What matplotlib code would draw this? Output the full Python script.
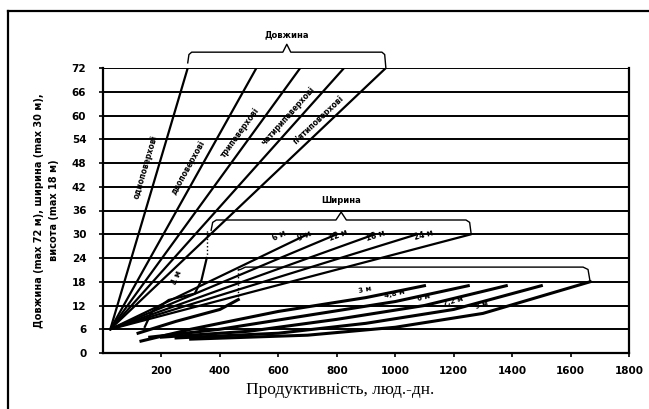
import numpy as np
import matplotlib
matplotlib.use("Agg")
import matplotlib.pyplot as plt
from matplotlib.lines import Line2D

# ---- data -------------------------------------------------------------
# length lines (Довжина): common start, end at max length 72 m
len_start = (25, 6)
len_end_x = [290, 525, 675, 825, 968]
len_end_y = [72, 72, 72, 72, 72]
len_labels = ["одноповерхові", "двоповерхові", "триповерхові",
              "чотириповерхові", "п'ятиповерхові"]
len_label_y = [47, 47, 55.5, 60, 59]

# width lines (Ширина): common start, end at max width 30 m
wid_start = (25, 6)
wid_end_x = [700, 800, 930, 1075, 1260]
wid_end_y = [30, 30, 30, 30, 30]
wid_labels = ["6 м", "9 м", "12 м", "18 м", "24 м"]

# short width curve ending at x = 355
small_curve_x = [143, 167, 225, 314, 337, 355]
small_curve_y = [6.6, 10.4, 13.4, 15.0, 18.4, 24.0]
small_curve_label = "4 м"
small_curve_top = 31

# height lines (Висота): curved, max height 18 m
hgt_x = [
    [130, 300, 600, 900, 1100],
    [160, 400, 700, 1000, 1250],
    [200, 500, 800, 1100, 1380],
    [250, 600, 900, 1200, 1500],
    [300, 700, 1000, 1300, 1667],
    [120, 250, 400, 463],
]
hgt_y = [
    [3.0, 6.0, 10.5, 14.0, 17.0],
    [4.0, 6.0, 9.5, 13.0, 17.0],
    [4.0, 5.5, 8.5, 12.0, 17.0],
    [3.8, 5.0, 7.5, 11.0, 17.0],
    [3.5, 4.5, 6.5, 10.0, 18.0],
    [5.0, 8.0, 11.0, 13.5],
]
hgt_labels = ["3 м", "4,8 м", "6 м", "7,2 м", "9 м"]
hgt_top = 21

yticks = list(range(0, 73, 6))
xticks = list(range(200, 1801, 200))

# ---- figure -----------------------------------------------------------
W, H = 649, 409
fig = plt.figure(figsize=(W / 100, H / 100), dpi=100)
ax = fig.add_axes([103 / W, 1 - 353 / H, (629 - 103) / W, (353 - 68) / H])
ax.set_xlim(0, 1800)
ax.set_ylim(0, 72)

for y in yticks[1:]:
    ax.axhline(y, color="black", lw=1.4, zorder=1)
for s in ["left", "right", "bottom"]:
    ax.spines[s].set_linewidth(1.6)
ax.spines["top"].set_visible(False)

tick_font = dict(family="DejaVu Sans", weight="bold", size=7.5)
ax.set_yticks(yticks)
ax.set_yticklabels([str(v) for v in yticks], **tick_font)
ax.set_xticks(xticks)
ax.set_xticklabels([str(v) for v in xticks], **tick_font)
ax.tick_params(axis="x", length=3, width=1.2, pad=6)
ax.tick_params(axis="y", length=3, width=1.2, pad=9)

ax.set_ylabel("Довжина (max 72 м), ширина (max 30 м),\nвисота (max 18 м)",
              family="DejaVu Sans", weight="bold", fontsize=7, labelpad=9,
              linespacing=1.6)
fig.text(340 / W, 1 - 390 / H, "Продуктивність, люд.-дн.",
         family="Liberation Serif", fontsize=12.5, ha="center", va="center")

LW = 1.6


def angle_of(x0, y0, x1, y1):
    p0 = ax.transData.transform((x0, y0))
    p1 = ax.transData.transform((x1, y1))
    return np.degrees(np.arctan2(p1[1] - p0[1], p1[0] - p0[0]))


def brace(xl, yl, xr, yr, ytop, ycusp, label=None, ylabel=None):
    """Curly brace over the ends of a group of lines."""
    r = (xr - xl) * 0.02
    xm = (xl + xr) / 2
    bx = [xl, xl + r * 0.3, xl + r, xm - r, xm, xm + r, xr - r, xr - r * 0.3, xr]
    by = [yl, ytop - 0.6, ytop, ytop, ycusp, ytop, ytop, ytop - 0.6, yr]
    ax.plot(bx, by, color="black", lw=1.0, clip_on=False, zorder=3)
    if label:
        ax.text(xm, ylabel, label, ha="center", va="center", fontsize=6,
                family="DejaVu Sans", weight="bold", clip_on=False)


# length lines
for xe, ye, lab, ly in zip(len_end_x, len_end_y, len_labels, len_label_y):
    ax.plot([len_start[0], xe], [len_start[1], ye], color="black", lw=LW,
            solid_capstyle="round", zorder=3)
    rot = angle_of(len_start[0], len_start[1], xe, ye)
    xl = len_start[0] + (ly - len_start[1]) / (ye - len_start[1]) * (xe - len_start[0])
    ax.annotate(lab, (xl, ly), xytext=(-13, 0), textcoords="offset pixels",
                rotation=rot, rotation_mode="anchor", ha="center", va="center",
                fontsize=5.5, weight="bold", family="DejaVu Sans")

brace(len_end_x[0], len_end_y[0] + 1.3, len_end_x[-1], len_end_y[-1],
      76, 78, "Довжина", 80.5)

# width lines
for xe, ye, lab in zip(wid_end_x, wid_end_y, wid_labels):
    ax.plot([wid_start[0], xe], [wid_start[1], ye], color="black", lw=LW,
            solid_capstyle="round", zorder=3)
    rot = angle_of(wid_start[0], wid_start[1], xe, ye)
    t = 0.88
    xl = wid_start[0] + t * (xe - wid_start[0])
    yl = wid_start[1] + t * (ye - wid_start[1])
    ax.annotate(lab, (xl, yl), xytext=(-3, 6), textcoords="offset pixels",
                rotation=rot, rotation_mode="anchor", ha="center", va="bottom",
                fontsize=5.5, weight="bold", family="DejaVu Sans")

ax.plot(small_curve_x, small_curve_y, color="black", lw=LW, zorder=3)
ax.plot([small_curve_x[-1]] * 2, [small_curve_y[-1], small_curve_top],
        color="black", lw=1.0, ls=":", zorder=3)
ax.text(small_curve_x[3] - 60, small_curve_y[3] + 4, small_curve_label,
        rotation=70, fontsize=5.5, weight="bold", ha="center", va="center")
brace(small_curve_x[-1] + 15, small_curve_top, wid_end_x[-1], wid_end_y[-1],
      33.6, 35.6, "Ширина", 38.6)

# height lines
for xs, ys in zip(hgt_x, hgt_y):
    ax.plot(xs, ys, color="black", lw=LW + 0.6, zorder=3)
for xs, ys, lab in zip(hgt_x, hgt_y, hgt_labels):
    rot = angle_of(xs[-2], ys[-2], xs[-1], ys[-1])
    ax.annotate(lab, (xs[-2], ys[-2]), xytext=(0, 5), textcoords="offset pixels",
                rotation=rot, rotation_mode="anchor", ha="center", va="bottom",
                fontsize=5, weight="bold", family="DejaVu Sans")
ax.plot([hgt_x[-1][-1]] * 2, [hgt_y[-1][-1], hgt_top], color="black",
        lw=1.0, ls=":", zorder=3)
brace(hgt_x[-1][-1], hgt_top, hgt_x[4][-1], hgt_y[4][-1], 21.7, 21.7)

# outer frame
fig.add_artist(Line2D([8 / W, 1], [1 - 11 / H] * 2, color="black", lw=1.6,
                      transform=fig.transFigure))
fig.add_artist(Line2D([8 / W] * 2, [0, 1 - 11 / H], color="black", lw=1.6,
                      transform=fig.transFigure))

fig.savefig("out.png", dpi=100)
